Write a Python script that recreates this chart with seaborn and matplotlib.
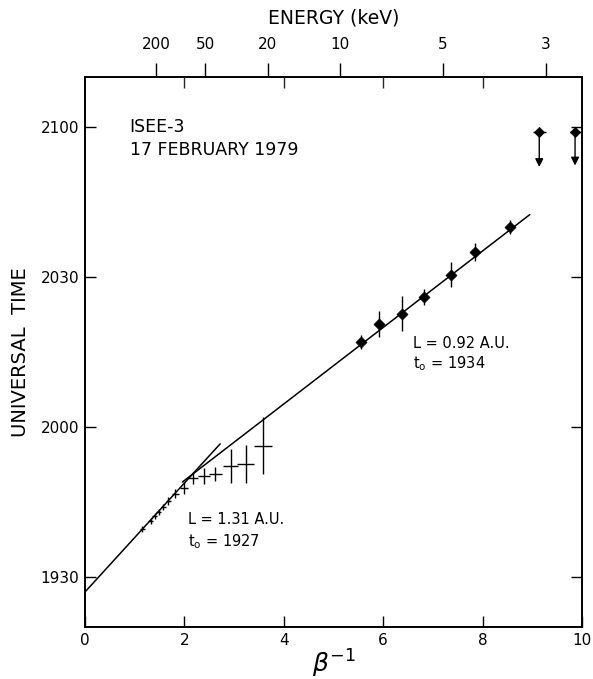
import numpy as np
import pandas as pd
import matplotlib
matplotlib.use("Agg")
import matplotlib.pyplot as plt
import seaborn as sns

# time axis is minutes after 1900 UT
# high energy electrons (crosses, follow the L = 1.31 AU line)
hi_beta_inv = [1.15, 1.32, 1.40, 1.48, 1.57, 1.68, 1.82, 1.99, 2.17, 2.40, 2.62, 2.93, 3.23, 3.59]
hi_time = [39.6, 41.3, 42.2, 43.1, 44.0, 45.2, 46.7, 47.9, 49.8, 50.3, 50.7, 52.2, 52.7, 56.3]
hi_terr = [0.6, 0.6, 0.6, 0.6, 0.6, 0.8, 0.9, 1.2, 1.2, 1.6, 1.4, 3.4, 3.8, 5.7]
hi_berr = [0.05, 0.05, 0.05, 0.05, 0.05, 0.06, 0.07, 0.08, 0.10, 0.12, 0.13, 0.15, 0.18, 0.18]

# low energy electrons (filled diamonds, L = 0.92 AU line)
lo_beta_inv = [5.55, 5.92, 6.37, 6.83, 7.36, 7.85, 8.55]
lo_time = [77.0, 80.6, 82.7, 86.1, 90.5, 95.0, 100.1]
lo_terr = [1.4, 2.6, 3.4, 1.6, 2.5, 1.8, 1.4]
lo_berr = [0.06, 0.06, 0.06, 0.06, 0.06, 0.06, 0.06]

# upper limits (arrows)
lim_beta_inv = [9.14, 9.86]
lim_time = [119.1, 119.1]
lim_berr = [0.13, 0.11]
lim_drop = [7.1, 6.8]

# velocity dispersion fits
fit_L = [1.31, 0.92]          # AU
fit_t0 = [27.0, 34.0]         # minutes after 1900
fit_from = [0.0, 1.96]
fit_to = [2.72, 8.95]
AU_MIN = 8.317                # light travel time over 1 AU, minutes

energy_kev = [200, 50, 20, 10, 5, 3]
time_ticks = [30, 60, 90, 120]
time_labels = ["1930", "2000", "2030", "2100"]


def beta_inv(e_kev):
    gamma = 1.0 + np.asarray(e_kev, dtype=float) / 511.0
    return 1.0 / np.sqrt(1.0 - 1.0 / gamma ** 2)


sns.set_theme(style="ticks")
plt.rcParams["font.family"] = ["DejaVu Sans"]
plt.rcParams["mathtext.fontset"] = "dejavusans"
plt.rcParams["text.color"] = "black"
plt.rcParams["axes.labelcolor"] = "black"

fig = plt.figure(figsize=(5.93, 6.79), dpi=100)
ax = fig.add_axes([85 / 593, 52 / 679, 497 / 593, 550 / 679])

for L, t0, b0, b1 in zip(fit_L, fit_t0, fit_from, fit_to):
    fit = pd.DataFrame({"b": [b0, b1]})
    fit["t"] = t0 + L * AU_MIN * fit["b"]
    sns.lineplot(data=fit, x="b", y="t", color="black", lw=1.1, ax=ax)

ax.errorbar(hi_beta_inv, hi_time, xerr=hi_berr, yerr=hi_terr, fmt="none",
            ecolor="black", elinewidth=1.0, capsize=0)

ax.errorbar(lo_beta_inv, lo_time, xerr=lo_berr, yerr=lo_terr, fmt="none",
            ecolor="black", elinewidth=1.0, capsize=0)
sns.scatterplot(x=lo_beta_inv, y=lo_time, marker="D", s=32, color="black",
                edgecolor="black", ax=ax, zorder=3)

ax.errorbar(lim_beta_inv, lim_time, xerr=lim_berr, fmt="none",
            ecolor="black", elinewidth=1.0, capsize=0)
sns.scatterplot(x=lim_beta_inv, y=lim_time, marker="D", s=28, color="black",
                edgecolor="black", ax=ax, zorder=3)
for b, t, d in zip(lim_beta_inv, lim_time, lim_drop):
    ax.annotate("", xy=(b, t - d), xytext=(b, t),
                arrowprops=dict(arrowstyle="-|>", color="black", lw=1.0,
                                mutation_scale=12, shrinkA=0, shrinkB=0))

ax.set_xlim(0, 10)
ax.set_ylim(20, 130)
ax.set_xticks([0, 2, 4, 6, 8, 10])
ax.set_xticklabels(["0", "2", "4", "6", "8", "10"])
ax.set_yticks(time_ticks)
ax.set_yticklabels(time_labels)
ax.tick_params(axis="both", which="major", direction="in", length=8, width=1.0,
               labelsize=11, colors="black", pad=4,
               right=True, top=False)
ax.set_xlabel(r"$\beta^{\mathregular{-1}}$", fontsize=18, labelpad=0)
ax.set_ylabel("UNIVERSAL  TIME", fontsize=14, labelpad=8)
for s in ax.spines.values():
    s.set_color("black")
    s.set_linewidth(1.4)

# energy scale on top
top = ax.twiny()
top.set_xlim(ax.get_xlim())
top.set_xticks(beta_inv(energy_kev))
top.set_xticklabels([str(e) for e in energy_kev])
top.set_xticks([2, 4, 6, 8], minor=True)
top.tick_params(axis="x", which="major", direction="out", length=10, width=1.0,
                labelsize=11, colors="black", pad=8)
top.tick_params(axis="x", which="minor", direction="in", length=8, width=1.0)
top.set_xlabel("ENERGY (keV)", fontsize=13.5, labelpad=10)
for s in top.spines.values():
    s.set_visible(False)

ax.text(0.9, 120, "ISEE-3", fontsize=12.5, ha="left", va="center")
ax.text(0.9, 115.4, "17 FEBRUARY 1979", fontsize=12.5, ha="left", va="center")
ax.text(2.07, 41.4, "L = 1.31 A.U.", fontsize=10.5, ha="left", va="center")
ax.text(2.07, 37.0, r"t$_\mathregular{o}$ = 1927", fontsize=10.5, ha="left", va="center")
ax.text(6.6, 76.8, "L = 0.92 A.U.", fontsize=10.5, ha="left", va="center")
ax.text(6.6, 72.6, r"t$_\mathregular{o}$ = 1934", fontsize=10.5, ha="left", va="center")

fig.savefig("out.png", dpi=100)
